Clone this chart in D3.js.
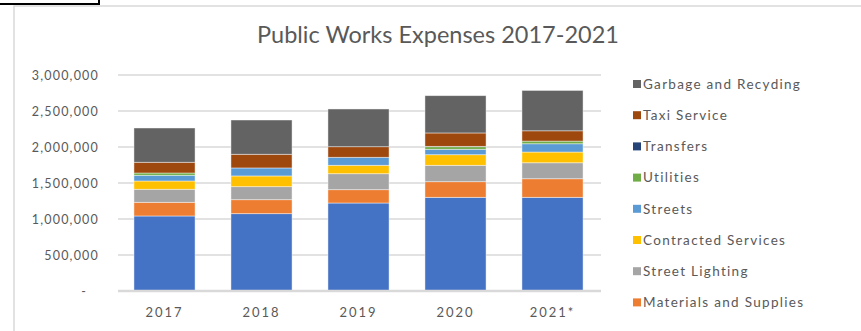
<!DOCTYPE html>
<html>
<head>
<meta charset="utf-8">
<script src="https://cdn.jsdelivr.net/npm/d3@7"></script>
<style>
  html, body { margin: 0; padding: 0; background: #fff; }
  svg { display: block; }
  text { font-family: Lato, "Open Sans", sans-serif; fill: #595959; }
</style>
</head>
<body>
<svg id="chart" width="861" height="331"></svg>
<script>
// Year categories shown along the x axis
const years = ["2017", "2018", "2019", "2020", "2021*"];

// Expense series, bottom of the stack first
const seriesNames = [
  "Salaries and Benefits",
  "Materials and Supplies",
  "Street Lighting",
  "Contracted Services",
  "Streets",
  "Utilities",
  "Transfers",
  "Taxi Service",
  "Garbage and Recyding"
];

const salaries    = [1042000, 1074000, 1222000, 1301000, 1301000];
const materials   = [190000, 194000, 185000, 217000, 258000];
const lighting    = [181000, 181000, 222000, 228000, 222000];
const contracted  = [115000, 149000, 117000, 147000, 149000];
const streets     = [79000, 111000, 111000, 75000, 115000];
const utilities   = [32000, 0, 0, 36000, 37000];
const transfers   = [0, 0, 0, 5000, 0];
const taxi        = [149000, 190000, 147000, 186000, 143000];
const garbage     = [476000, 476000, 524000, 518000, 561000];

const seriesValues = [salaries, materials, lighting, contracted, streets, utilities, transfers, taxi, garbage];

const colors = ["#4472C4", "#ED7D31", "#A5A5A5", "#FFC000", "#5B9BD5", "#70AD47", "#264478", "#9E480E", "#636363"];

const yTicks = [0, 500000, 1000000, 1500000, 2000000, 2500000, 3000000];

const title = "Public Works Expenses 2017-2021";

// Build rows for d3.stack
const rows = years.map((yr, i) => {
  const r = { year: yr };
  seriesNames.forEach((n, s) => { r[n] = seriesValues[s][i]; });
  return r;
});
const stacked = d3.stack().keys(seriesNames)(rows);

const svg = d3.select("#chart");
const W = 861, H = 331;

// Outer frame pieces
svg.append("path")
  .attr("d", "M0,4 H99 V0")
  .attr("fill", "none").attr("stroke", "#000").attr("stroke-width", 2);
svg.append("path")
  .attr("d", `M14,${H} V6 H${W}`)
  .attr("fill", "none").attr("stroke", "#d9d9d9").attr("stroke-width", 1.5);

const x = d3.scaleBand().domain(years).range([116, 601])
  .paddingInner(0.37).paddingOuter(0.185);
const y = d3.scaleLinear().domain([0, 3000000]).range([291, 75]);

// Horizontal gridlines
svg.append("g").selectAll("line").data(yTicks.filter(t => t > 0)).join("line")
  .attr("x1", 118).attr("x2", 601)
  .attr("y1", d => y(d)).attr("y2", d => y(d))
  .attr("stroke", "#d9d9d9").attr("stroke-width", 1.5);

// Y axis labels
const fmt = d3.format(",");
const yAxis = d3.axisLeft(y).tickValues(yTicks).tickSize(0).tickPadding(0)
  .tickFormat(d => d === 0 ? "-" : fmt(d));
const gy = svg.append("g").attr("transform", "translate(99,0)").call(yAxis);
gy.select(".domain").remove();
gy.selectAll("text")
  .attr("dx", d => d === 0 ? -12 : 0)
  .style("font-family", "Lato, sans-serif").style("font-size", "12.5px")
  .style("letter-spacing", "1.2px").attr("fill", "#595959");

// Stacked bars
svg.append("g").selectAll("g").data(stacked).join("g")
  .attr("fill", (d, i) => colors[i])
  .selectAll("rect").data(d => d.filter(p => p[1] - p[0] > 0)).join("rect")
  .attr("x", d => x(d.data.year))
  .attr("width", x.bandwidth())
  .attr("y", d => y(d[1]))
  .attr("height", d => y(d[0]) - y(d[1]))
  .attr("stroke", "#ffffff").attr("stroke-opacity", 0.55).attr("stroke-width", 0.8);

// Baseline
svg.append("line").attr("x1", 118).attr("x2", 601).attr("y1", y(0)).attr("y2", y(0))
  .attr("stroke", "#d9d9d9").attr("stroke-width", 2.5);

// X axis labels
const xAxis = d3.axisBottom(x).tickSize(0).tickPadding(0);
const gx = svg.append("g").attr("transform", "translate(0,312)").call(xAxis);
gx.select(".domain").remove();
gx.selectAll("text").style("font-family", "Lato, sans-serif").style("font-size", "13px")
  .style("letter-spacing", "2px")
  .attr("fill", "#595959").attr("dy", "0.35em").attr("y", 0);

// Title
svg.append("text").attr("x", 438).attr("y", 43).attr("text-anchor", "middle")
  .style("font-size", "23.5px").text(title);

// Legend (top series first)
const legendItems = seriesNames.map((n, i) => ({ name: n, color: colors[i] })).reverse();
const ly0 = 84, lstep = 31.2;
const leg = svg.append("g").selectAll("g")
  .data(legendItems.filter((d, i) => ly0 + i * lstep < H - 8)).join("g")
  .attr("transform", (d, i) => `translate(633,${ly0 + i * lstep})`);
leg.append("rect").attr("x", 0).attr("y", -4).attr("width", 8).attr("height", 8)
  .attr("fill", d => d.color);
leg.append("text").attr("x", 10).attr("dy", "0.35em")
  .style("font-size", "13.5px").style("letter-spacing", "1.3px").text(d => d.name);
</script>
</body>
</html>
